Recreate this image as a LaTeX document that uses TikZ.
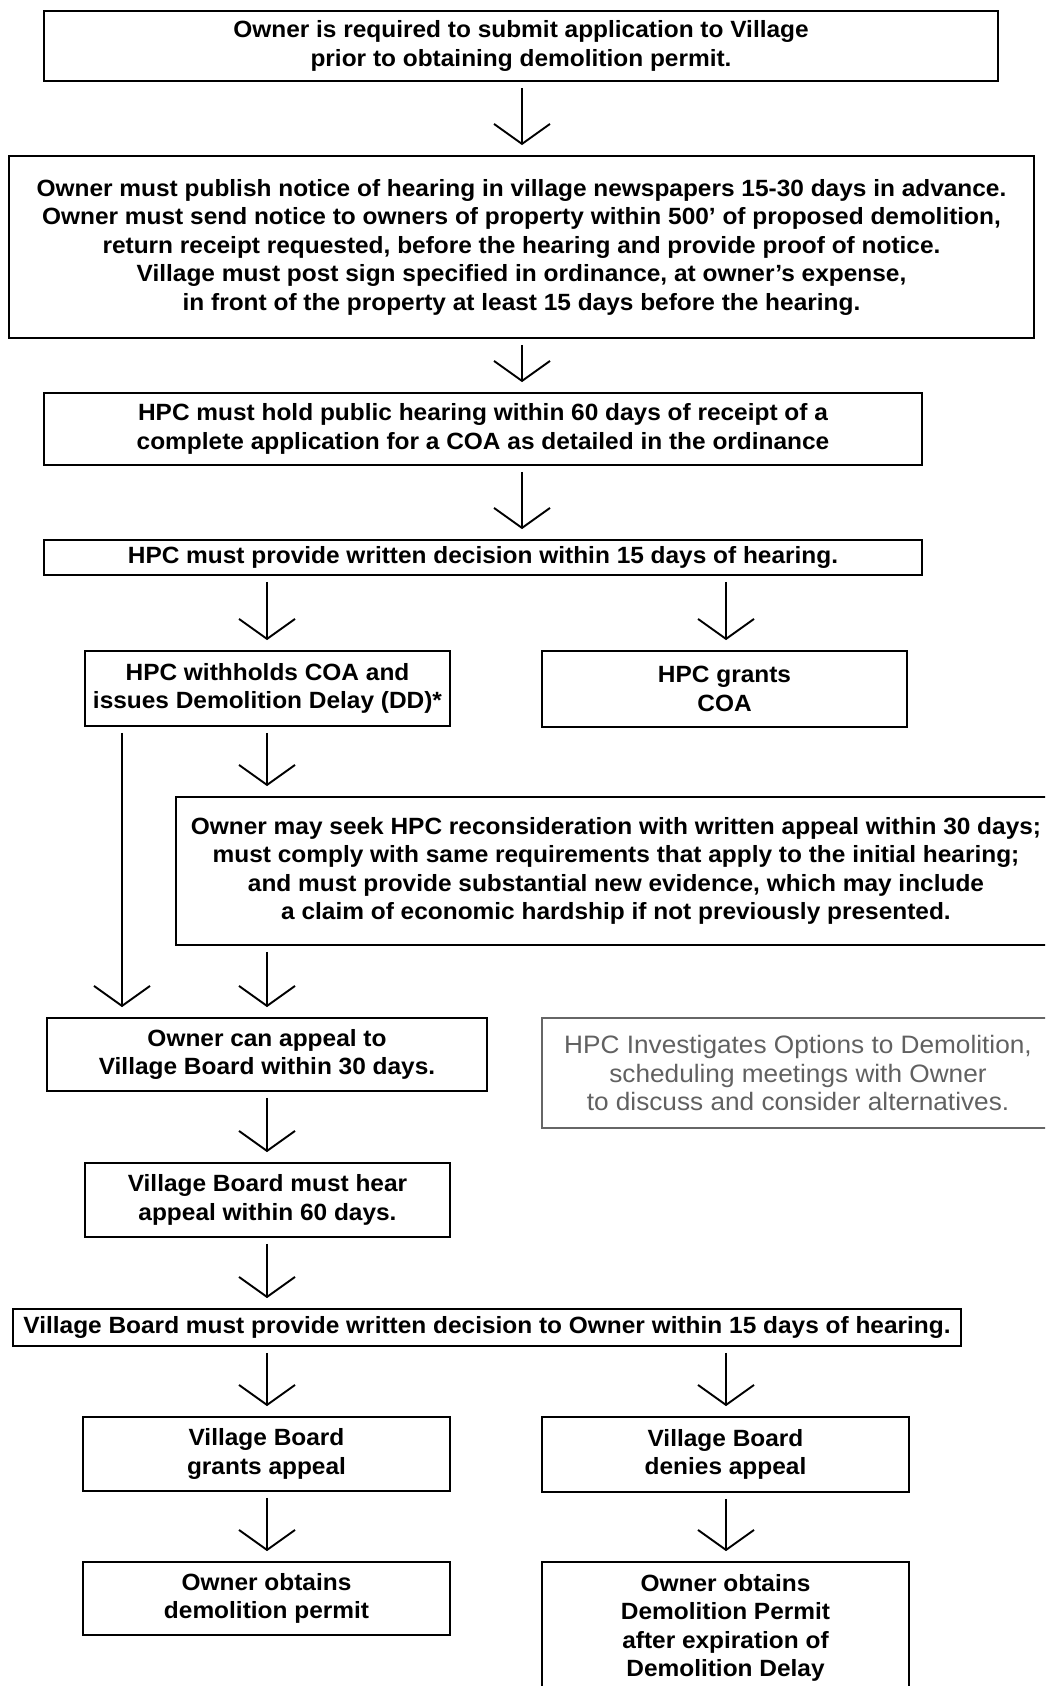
\documentclass[tikz,border=0pt]{standalone}
\usepackage{fontspec}
\setmainfont{Liberation Sans}[FakeStretch=1.04]
\usetikzlibrary{arrows.meta}

\begin{document}
\begin{tikzpicture}[x=1pt, y=-1pt,
        box/.style={draw, line width=1.8pt, align=center, inner sep=0pt,
            font=\bfseries\fontsize{23.5}{28.5}\selectfont},
        greybox/.style={box, draw=black!60, line width=1.4pt, text=black!62,
            font=\fontsize{25.2}{28.5}\selectfont},
        flow/.style={line width=1.9pt, shorten <=6pt, shorten >=10pt,
            -{Straight Barb[length=20pt, width=56pt]}}]
        \useasboundingbox (0, 0) rectangle (1045, 1686);
        \clip (0, 0) rectangle (1045, 1686);
        \coordinate (mid) at (522, 0);
        \coordinate (lft) at (267, 0);
        \coordinate (rgt) at (726, 0);
        \coordinate (far) at (122, 0);

        \node[box, minimum width=954pt, minimum height=70pt] (apply) at (521, 46)
            {Owner is required to submit application to Village\\ prior to obtaining demolition permit.};
        \node[box, minimum width=1025pt, minimum height=182pt] (notice) at (521.5, 247)
            {Owner must publish notice of hearing in village newspapers 15-30 days in advance.\\
             Owner must send notice to owners of property within 500' of proposed demolition,\\
             return receipt requested, before the hearing and provide proof of notice.\\
             Village must post sign specified in ordinance, at owner's expense,\\
             in front of the property at least 15 days before the hearing.};
        \node[box, minimum width=878pt, minimum height=72pt] (hearing) at (483, 429)
            {HPC must hold public hearing within 60 days of receipt of a\\ complete application for a COA as detailed in the ordinance};
        \node[box, minimum width=878pt, minimum height=35pt] (hpcdec) at (483, 557.5)
            {HPC must provide written decision within 15 days of hearing.};
        \node[box, minimum width=365pt, minimum height=75pt] (withhold) at (267.5, 688.5)
            {HPC withholds COA and\\ issues Demolition Delay (DD)*};
        \node[box, minimum width=365pt, minimum height=76pt] (grant) at (724.5, 689)
            {HPC grants\\ COA};
        \node[box, minimum width=880pt, minimum height=148pt] (recons) at (616, 871)
            {Owner may seek HPC reconsideration with written appeal within 30 days;\\
             must comply with same requirements that apply to the initial hearing;\\
             and must provide substantial new evidence, which may include\\
             a claim of economic hardship if not previously presented.};
        \node[box, minimum width=440pt, minimum height=73pt] (appeal) at (267, 1054.5)
            {Owner can appeal to\\ Village Board within 30 days.};
        \node[greybox, minimum width=512pt, minimum height=110pt] (options) at (798, 1073)
            {HPC Investigates Options to Demolition,\\ scheduling meetings with Owner\\ to discuss and consider alternatives.};
        \node[box, minimum width=365pt, minimum height=74pt] (vbhear) at (267.5, 1200)
            {Village Board must hear\\ appeal within 60 days.};
        \node[box, minimum width=948pt, minimum height=37pt] (vbdec) at (487, 1327.5)
            {Village Board must provide written decision to Owner within 15 days of hearing.};
        \node[box, minimum width=367pt, minimum height=74pt] (vbgrant) at (266.5, 1454)
            {Village Board\\ grants appeal};
        \node[box, minimum width=367pt, minimum height=75pt] (vbdeny) at (725.5, 1454.5)
            {Village Board\\ denies appeal};
        \node[box, minimum width=367pt, minimum height=73pt] (permit) at (266.5, 1598.5)
            {Owner obtains\\ demolition permit};
        \node[box, minimum width=367pt, minimum height=132pt] (delayed) at (725.5, 1628)
            {Owner obtains\\ Demolition Permit\\ after expiration of\\ Demolition Delay};

        \draw[flow] (apply.south -| mid) -- (notice.north -| mid);
        \draw[flow] (notice.south -| mid) -- (hearing.north -| mid);
        \draw[flow] (hearing.south -| mid) -- (hpcdec.north -| mid);
        \draw[flow] (hpcdec.south -| lft) -- (withhold.north -| lft);
        \draw[flow] (hpcdec.south -| rgt) -- (grant.north -| rgt);
        \draw[flow] (withhold.south -| lft) -- (recons.north -| lft);
        \draw[flow] (withhold.south -| far) -- (appeal.north -| far);
        \draw[flow] (recons.south -| lft) -- (appeal.north -| lft);
        \draw[flow] (appeal.south -| lft) -- (vbhear.north -| lft);
        \draw[flow] (vbhear.south -| lft) -- (vbdec.north -| lft);
        \draw[flow] (vbdec.south -| lft) -- (vbgrant.north -| lft);
        \draw[flow] (vbdec.south -| rgt) -- (vbdeny.north -| rgt);
        \draw[flow] (vbgrant.south -| lft) -- (permit.north -| lft);
        \draw[flow] (vbdeny.south -| rgt) -- (delayed.north -| rgt);
\end{tikzpicture}
\end{document}
